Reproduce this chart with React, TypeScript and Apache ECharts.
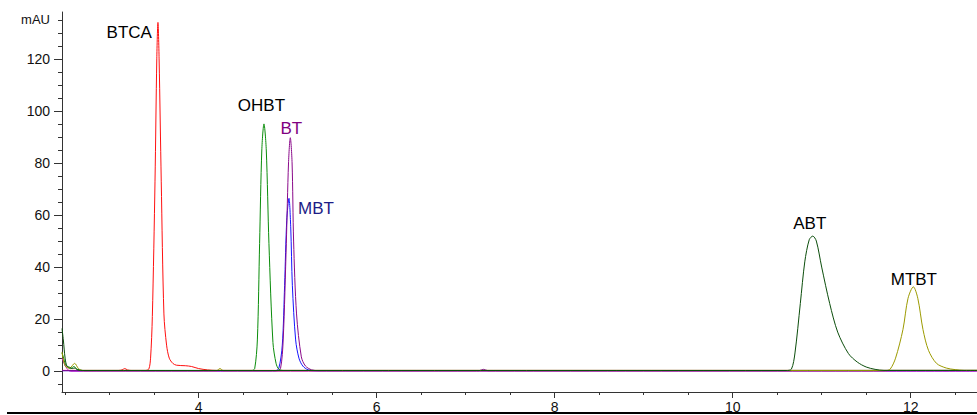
import React, { useEffect, useRef } from "react";
import * as echarts from "echarts";

const X_MIN = 2.465;
const X_MAX = 12.745;
const Y_MIN = -8;
const Y_MAX = 138;

const xTickLabels = [4, 6, 8, 10, 12];
const yTickLabels = [0, 20, 40, 60, 80, 100, 120];
const yUnitValue = 135;
const yUnit = "mAU";

const btca = [[2.465, 0.3], [3.1, 0.3], [3.14, 0.5], [3.17, 1.0], [3.2, 0.5], [3.24, 0.3], [3.4, 0.3], [3.44, 0.8], [3.46, 5], [3.48, 21], [3.51, 73], [3.53, 120], [3.543, 134], [3.556, 120], [3.58, 73], [3.61, 22], [3.64, 10], [3.67, 5], [3.71, 3], [3.75, 2.3], [3.85, 2.1], [3.92, 1.8], [4.0, 1.0], [4.1, 0.5], [4.2, 0.3], [12.745, 0.3]];
const ohbt = [[2.465, 7.0], [2.48, 5.5], [2.5, 3], [2.53, 1.5], [2.56, 1], [2.6, 1.8], [2.63, 0.8], [2.7, 0.3], [4.6, 0.3], [4.63, 1], [4.66, 12], [4.685, 49], [4.71, 85], [4.734, 95], [4.76, 85], [4.79, 49], [4.835, 11], [4.87, 3], [4.9, 0.8], [4.95, 0.3], [12.745, 0.3]];
const bt = [[2.465, 0.2], [4.88, 0.2], [4.92, 1], [4.95, 12], [4.985, 49], [5.01, 80], [5.03, 89.7], [5.05, 80], [5.067, 50], [5.1, 22], [5.154, 5.5], [5.2, 2], [5.27, 0.5], [5.35, 0.2], [7.15, 0.2], [7.2, 0.7], [7.25, 0.2], [12.745, 0.2]];
const mbt = [[2.465, 0.2], [4.86, 0.2], [4.9, 1], [4.94, 10], [4.966, 33], [4.99, 58], [5.015, 66.4], [5.035, 55], [5.053, 33], [5.09, 12], [5.127, 5], [5.17, 2], [5.23, 0.5], [5.3, 0.2], [12.745, 0.2]];
const abt = [[2.465, 16.4], [2.48, 12], [2.5, 5], [2.52, 2], [2.55, 1.5], [2.58, 1.0], [2.61, 1.2], [2.64, 0.5], [2.7, 0.25], [10.6, 0.25], [10.66, 0.8], [10.7, 7], [10.76, 26], [10.81, 42], [10.86, 50.5], [10.9, 51.9], [10.94, 50], [11.0, 40], [11.09, 26], [11.18, 15], [11.3, 6.8], [11.4, 3.5], [11.5, 1.6], [11.6, 0.7], [11.7, 0.3], [12.745, 0.3]];
const mtbt = [[2.465, 7.4], [2.5, 2], [2.55, 1.2], [2.607, 3], [2.65, 1], [2.7, 0.2], [4.2, 0.2], [4.24, 1], [4.28, 0.2], [11.72, 0.2], [11.77, 0.8], [11.83, 5], [11.913, 16], [11.97, 28], [12.03, 32.4], [12.08, 28], [12.138, 16], [12.2, 8], [12.29, 3], [12.4, 1.2], [12.5, 0.6], [12.6, 0.3], [12.745, 0.3]];
const baseline = [[2.465, 4.9], [2.49, 3], [2.52, 1], [2.56, 0], [12.745, 0]];

const peakNames = ["BTCA", "OHBT", "BT", "MBT", "ABT", "MTBT"];
const peakTimes = [3.543, 4.734, 5.03, 5.015, 10.9, 12.03];
const peakValues = [134, 95, 89.7, 66.4, 51.9, 32.4];

// label layout relative to peak apex (pixels)
const labelLayout: Record<string, { dx: number; dy: number; align: string; color: string }> = {
  BTCA: { dx: -6, dy: 10, align: "right", color: "#000000" },
  OHBT: { dx: -2.5, dy: -18, align: "center", color: "#000000" },
  BT: { dx: 1, dy: -9, align: "center", color: "#800080" },
  MBT: { dx: 9, dy: 10, align: "left", color: "#1c1c86" },
  ABT: { dx: -3, dy: -13, align: "center", color: "#000000" },
  MTBT: { dx: 0.5, dy: -7.5, align: "center", color: "#000000" },
};

const FONT = "'Liberation Sans', Arial, Helvetica, sans-serif";

export default function App() {
  const ref = useRef<HTMLDivElement>(null);
  useEffect(() => {
    const chart = echarts.init(ref.current!, null, { renderer: "svg" });
    const mk = (name: string, data: number[][], color: string) => ({
      type: "line",
      name,
      data,
      showSymbol: false,
      symbol: "none",
      smooth: 0.3,
      silent: true,
      lineStyle: { color, width: 1 },
      itemStyle: { color },
    });
    const axisColor = "#333333";
    chart.setOption({
      animation: false,
      grid: { left: 62, right: 0, top: 12, bottom: 23, containLabel: false },
      xAxis: {
        type: "value",
        min: X_MIN,
        max: X_MAX,
        minInterval: 2,
        maxInterval: 2,
        axisLine: { show: true, onZero: false, lineStyle: { color: axisColor, width: 1 } },
        axisTick: { show: true, length: 6, customValues: xTickLabels, lineStyle: { color: axisColor } },
        minorTick: { show: true, splitNumber: 4, length: 3, lineStyle: { color: axisColor } },
        axisLabel: {
          customValues: xTickLabels,
          fontSize: 14,
          color: "#111",
          margin: 8,
          fontFamily: FONT,
          formatter: (v: number) => (xTickLabels.indexOf(v) >= 0 ? String(v) : ""),
        },
        splitLine: { show: false },
        minorSplitLine: { show: false },
      },
      yAxis: {
        type: "value",
        min: Y_MIN,
        max: Y_MAX,
        minInterval: 20,
        maxInterval: 20,
        axisLine: { show: true, onZero: false, lineStyle: { color: axisColor, width: 1 } },
        axisTick: { show: true, length: 8, customValues: yTickLabels, lineStyle: { color: axisColor } },
        minorTick: { show: true, splitNumber: 4, length: 4, lineStyle: { color: axisColor } },
        axisLabel: {
          customValues: yTickLabels,
          fontSize: 14,
          color: "#111",
          margin: 12,
          fontFamily: FONT,
          formatter: (v: number) => (yTickLabels.indexOf(v) >= 0 ? String(v) : ""),
        },
        splitLine: { show: false },
        minorSplitLine: { show: false },
      },
      series: [
        mk("baseline", baseline, "#d000d0"),
        mk("BTCA", btca, "#ff1010"),
        mk("MBT", mbt, "#1414ff"),
        mk("BT", bt, "#8a0a8a"),
        mk("OHBT", ohbt, "#0a8c0a"),
        mk("MTBT", mtbt, "#9c9a00"),
        mk("ABT", abt, "#0b4d0b"),
      ],
    });

    const graphics: any[] = [];
    peakNames.forEach((name, i) => {
      const p = chart.convertToPixel({ gridIndex: 0 }, [peakTimes[i], peakValues[i]]) as number[];
      const l = labelLayout[name];
      graphics.push({
        type: "text",
        x: p[0] + l.dx,
        y: p[1] + l.dy,
        silent: true,
        style: {
          text: name,
          fill: l.color,
          font: `17px ${FONT}`,
          textAlign: l.align,
          textVerticalAlign: "middle",
        },
      });
    });
    const u = chart.convertToPixel({ gridIndex: 0 }, [X_MIN, yUnitValue]) as number[];
    graphics.push({
      type: "text",
      x: u[0] - 12,
      y: u[1],
      silent: true,
      style: { text: yUnit, fill: "#111", font: `13px ${FONT}`, textAlign: "right", textVerticalAlign: "middle" },
    });
    graphics.push({
      type: "line",
      silent: true,
      shape: { x1: 7, y1: 413, x2: 977, y2: 413 },
      style: { stroke: "#000", lineWidth: 2 },
    });
    chart.setOption({ graphic: graphics });

    return () => chart.dispose();
  }, []);
  return (
    <div
      ref={ref}
      style={{ position: "fixed", left: 0, top: 0, width: 977, height: 415, background: "#fff" }}
    />
  );
}
